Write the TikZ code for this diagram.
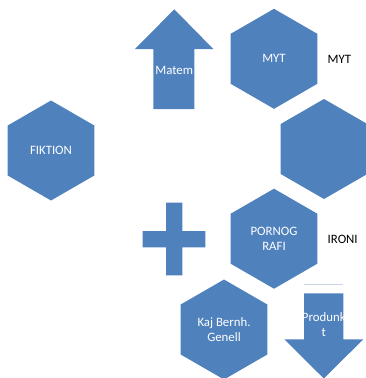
\documentclass[tikz,border=0pt]{standalone}
\usepackage{fontspec}
\setmainfont{Carlito}
\usetikzlibrary{shapes.geometric}
\definecolor{hexblue}{HTML}{4F81BD}
\definecolor{paleblue}{HTML}{C6D5EA}
\tikzset{hexa/.style={regular polygon,regular polygon sides=6,shape border rotate=30,minimum size=100pt,inner sep=0pt,fill=hexblue,text=white,align=center,font=\fontsize{12.8}{14.8}\selectfont},
	wtext/.style={text=white,align=center,inner sep=0pt,font=\fontsize{12.8}{14.8}\selectfont},
	btext/.style={text=black,inner sep=0pt,font=\fontsize{12.8}{14.8}\selectfont}}
\begin{document}
\begin{tikzpicture}[x=1pt,y=-1pt]
		\useasboundingbox (0,0) rectangle (365,378);
		\node[hexa] (fiktion) at (51,150.5) {FIKTION};
		\node[hexa] (myt) at (274,58.8) {MYT};
		\node[hexa] (tom) at (324,149) {};
		\node[hexa] (porno) at (274,238.7) {PORNOG\\RAFI};
		\node[hexa] (kaj) at (224,329.5) {Kaj Bernh.\\Genell};
		\fill[hexblue] (174.3,9.3)--(213.3,49)--(194.3,49)--(194.3,109)--(153.3,109)--(153.3,49)--(135,49)--cycle;
		\fill[hexblue] (166,202.7) rectangle (182.3,275.3) (142.7,231) rectangle (205.3,247.3);
		\fill[hexblue] (304,293.3)--(343.3,293.3)--(343.3,339.3)--(363.3,339.3)--(323.8,378.5)--(284.3,339.3)--(304,339.3)--cycle;
		\draw[paleblue,line width=1pt] (304,284.3)--(343.3,284.3);
		\node[wtext] (matem) at (174.2,70) {Matem};
		\node[wtext] (produkt) at (323.8,324.2) {Produnk\\t};
		\node[btext] (myttext) at (339.3,59.3) {MYT};
		\node[btext] (ironi) at (342.7,239) {IRONI};
		\end{tikzpicture}
\end{document}
